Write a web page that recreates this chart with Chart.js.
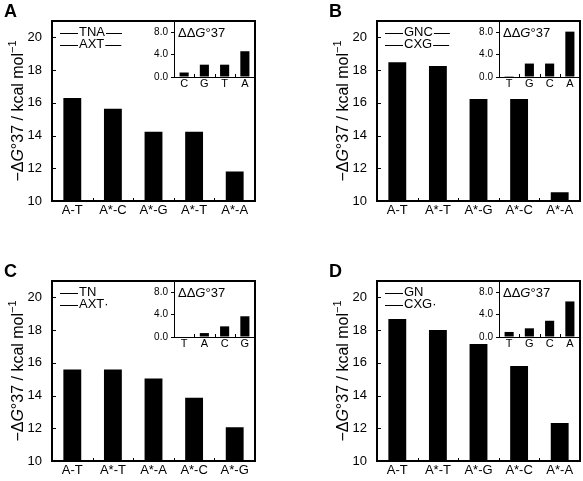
<!DOCTYPE html>
<html><head><meta charset="utf-8">
<script src="https://cdn.jsdelivr.net/npm/chart.js@4"></script>
<style>
html,body{margin:0;padding:0;background:#fff;}
#wrap{position:relative;width:583px;height:481px;overflow:hidden;background:#fff;}
#wrap canvas{position:absolute;}
</style></head><body><div id="wrap"></div>
<script>
const FONT = "'Liberation Sans', Arial, Helvetica, sans-serif";

// ---- data ----
const mainTicks = [10, 12, 14, 16, 18, 20];
const insetTicks = [0.0, 4.0, 8.0];

const lettersAll = ['A', 'B', 'C', 'D'];

const catsA = ['A-T', 'A*-C', 'A*-G', 'A*-T', 'A*-A'];
const valsA = [16.3, 15.63, 14.23, 14.23, 11.81];
const insetCatsA = ['C', 'G', 'T', 'A'];
const insetValsA = [0.8, 2.2, 2.2, 4.6];
const legendA = [['TNA', true], ['AXT', true]];

const catsB = ['A-T', 'A*-T', 'A*-G', 'A*-C', 'A*-A'];
const valsB = [18.48, 18.25, 16.24, 16.24, 10.53];
const insetCatsB = ['T', 'G', 'C', 'A'];
const insetValsB = [0.15, 2.4, 2.4, 8.1];
const legendB = [['GNC', true], ['CXG', true]];

const catsC = ['A-T', 'A*-T', 'A*-A', 'A*-C', 'A*-G'];
const valsC = [15.59, 15.59, 15.04, 13.86, 12.06];
const insetCatsC = ['T', 'A', 'C', 'G'];
const insetValsC = [0.0, 0.7, 1.9, 3.7];
const legendC = [['TN', false], ['AXT\u00B7', false]];

const catsD = ['A-T', 'A*-T', 'A*-G', 'A*-C', 'A*-A'];
const valsD = [18.68, 18.0, 17.15, 15.81, 12.32];
const insetCatsD = ['T', 'G', 'C', 'A'];
const insetValsD = [0.9, 1.55, 2.9, 6.35];
const legendD = [['GN', false], ['CXG\u00B7', false]];

// ---- helpers ----
function fontStr(size, italic, bold) {
  return (italic ? 'italic ' : '') + (bold ? 'bold ' : '') + size + 'px ' + FONT;
}
function drawRich(ctx, segs, x, y, rot, align) {
  ctx.save();
  ctx.translate(x, y);
  if (rot) ctx.rotate(rot);
  ctx.textBaseline = 'middle';
  ctx.textAlign = 'left';
  let total = 0;
  const ws = segs.map(s => { ctx.font = fontStr(s.size, s.italic, s.bold); const w = ctx.measureText(s.t).width; total += w; return w; });
  let cx = align === 'center' ? -total / 2 : 0;
  segs.forEach((s, i) => {
    ctx.font = fontStr(s.size, s.italic, s.bold);
    ctx.fillStyle = '#000';
    ctx.fillText(s.t, cx, s.dy || 0);
    cx += ws[i];
  });
  ctx.restore();
  return total;
}

const decor = {
  id: 'decor',
  afterDraw(chart, args, o) {
    const { ctx, chartArea: a, scales: { x, y } } = chart;
    ctx.save();
    ctx.strokeStyle = '#000';
    ctx.fillStyle = '#000';
    if (o.frame) {
      ctx.lineWidth = o.frame;
      ctx.strokeRect(a.left, a.top, a.right - a.left, a.bottom - a.top);
    }
    ctx.lineWidth = 1;
    if (o.xTick) {
      const n = x.ticks.length;
      for (let i = 0; i < n - 1; i++) {
        const px = Math.round((x.getPixelForValue(i) + x.getPixelForValue(i + 1)) / 2) + 0.5;
        ctx.beginPath(); ctx.moveTo(px, a.bottom); ctx.lineTo(px, a.bottom - o.xTick); ctx.stroke();
      }
    }
    if (o.yTick) {
      for (const t of y.ticks) {
        const py = Math.round(y.getPixelForValue(t.value)) + 0.5;
        if (py > a.bottom - 2) continue;
        ctx.beginPath(); ctx.moveTo(a.left, py); ctx.lineTo(a.left + o.yTick, py); ctx.stroke();
      }
    }
    if (o.letter) {
      drawRich(ctx, [{ t: o.letter, size: 18, bold: true }], 4, 12, 0, 'left');
    }
    if (o.legend) {
      o.legend.forEach((row, i) => {
        const yy = a.top + 11.5 + i * 12;
        const x0 = a.left + 8;
        ctx.beginPath(); ctx.moveTo(x0, Math.round(yy) + 0.5); ctx.lineTo(x0 + 18, Math.round(yy) + 0.5); ctx.stroke();
        const w = drawRich(ctx, [{ t: row[0], size: 13 }], x0 + 19, yy, 0, 'left');
        if (row[1]) {
          ctx.beginPath(); ctx.moveTo(x0 + 20 + w, Math.round(yy) + 0.5); ctx.lineTo(x0 + 36 + w, Math.round(yy) + 0.5); ctx.stroke();
        }
      });
    }
    if (o.ytitle) {
      drawRich(ctx, [
        { t: '\u2212\u0394', size: 16 },
        { t: 'G', size: 16, italic: true },
        { t: '\u00B037 / kcal mol', size: 16 },
        { t: '\u22121', size: 11, dy: -6 }
      ], a.left - 33, (a.top + a.bottom) / 2, -Math.PI / 2, 'center');
    }
    if (o.insetTitle) {
      drawRich(ctx, [
        { t: '\u0394\u0394', size: 13 },
        { t: 'G', size: 13, italic: true },
        { t: '\u00B037', size: 13 }
      ], a.left + 4, a.top + 12, 0, 'left');
    }
    ctx.restore();
  }
};
Chart.register(decor);

const wrap = document.getElementById('wrap');
function addCanvas(left, top, w, h) {
  const c = document.createElement('canvas');
  c.width = w; c.height = h;
  c.style.left = left + 'px'; c.style.top = top + 'px';
  c.style.width = w + 'px'; c.style.height = h + 'px';
  wrap.appendChild(c);
  return c;
}

function makePanel(ox, oy, letter, cats, vals, icats, ivals, legend) {
  const c1 = addCanvas(ox, oy, 258, 240);
  new Chart(c1, {
    type: 'bar',
    data: { labels: cats, datasets: [{ data: vals, backgroundColor: '#000', borderWidth: 0, barPercentage: 0.44, categoryPercentage: 1 }] },
    options: {
      responsive: false, animation: false, devicePixelRatio: 1,
      layout: { padding: { left: 0, right: 3, top: 21, bottom: 0 } },
      plugins: {
        legend: { display: false }, tooltip: { enabled: false },
        decor: { frame: 2, xTick: 3, yTick: 4, letter: letter, legend: legend, ytitle: true }
      },
      scales: {
        x: {
          grid: { display: false, drawTicks: false }, border: { display: false },
          ticks: { color: '#000', font: { family: FONT, size: 13 }, padding: 2, maxRotation: 0, autoSkip: false },
          afterFit(s) { s.height = 39; }
        },
        y: {
          min: mainTicks[0], max: 21,
          grid: { display: false, drawTicks: false }, border: { display: false },
          afterBuildTicks(s) { s.ticks = mainTicks.map(v => ({ value: v })); },
          ticks: { color: '#000', font: { family: FONT, size: 13 }, padding: 10 },
          afterFit(s) { s.width = 52; }
        }
      }
    }
  });
  const c2 = addCanvas(ox + 134, oy + 10, 121, 88);
  new Chart(c2, {
    type: 'bar',
    data: { labels: icats, datasets: [{ data: ivals, backgroundColor: '#000', borderWidth: 0, barPercentage: 0.45, categoryPercentage: 1 }] },
    options: {
      responsive: false, animation: false, devicePixelRatio: 1,
      layout: { padding: { left: 0, right: 0, top: 11, bottom: 0 } },
      plugins: {
        legend: { display: false }, tooltip: { enabled: false },
        decor: { xTick: 3, insetTitle: true }
      },
      scales: {
        x: {
          grid: { display: false, drawTicks: false }, border: { display: true, color: '#000', width: 1 },
          ticks: { color: '#000', font: { family: FONT, size: 11 }, padding: 0, maxRotation: 0, autoSkip: false },
          afterFit(s) { s.height = 21; }
        },
        y: {
          min: 0, max: 10,
          grid: { display: true, drawOnChartArea: false, drawTicks: true, tickLength: 3, color: '#000' },
          border: { display: true, color: '#000', width: 1 },
          afterBuildTicks(s) { s.ticks = insetTicks.map(v => ({ value: v })); },
          ticks: { color: '#000', font: { family: FONT, size: 10 }, padding: 3, callback: v => Number(v).toFixed(1) },
          afterFit(s) { s.width = 40; }
        }
      }
    }
  });
}

makePanel(0, 0, lettersAll[0], catsA, valsA, insetCatsA, insetValsA, legendA);
makePanel(325, 0, lettersAll[1], catsB, valsB, insetCatsB, insetValsB, legendB);
makePanel(0, 260, lettersAll[2], catsC, valsC, insetCatsC, insetValsC, legendC);
makePanel(325, 260, lettersAll[3], catsD, valsD, insetCatsD, insetValsD, legendD);
</script></body></html>
